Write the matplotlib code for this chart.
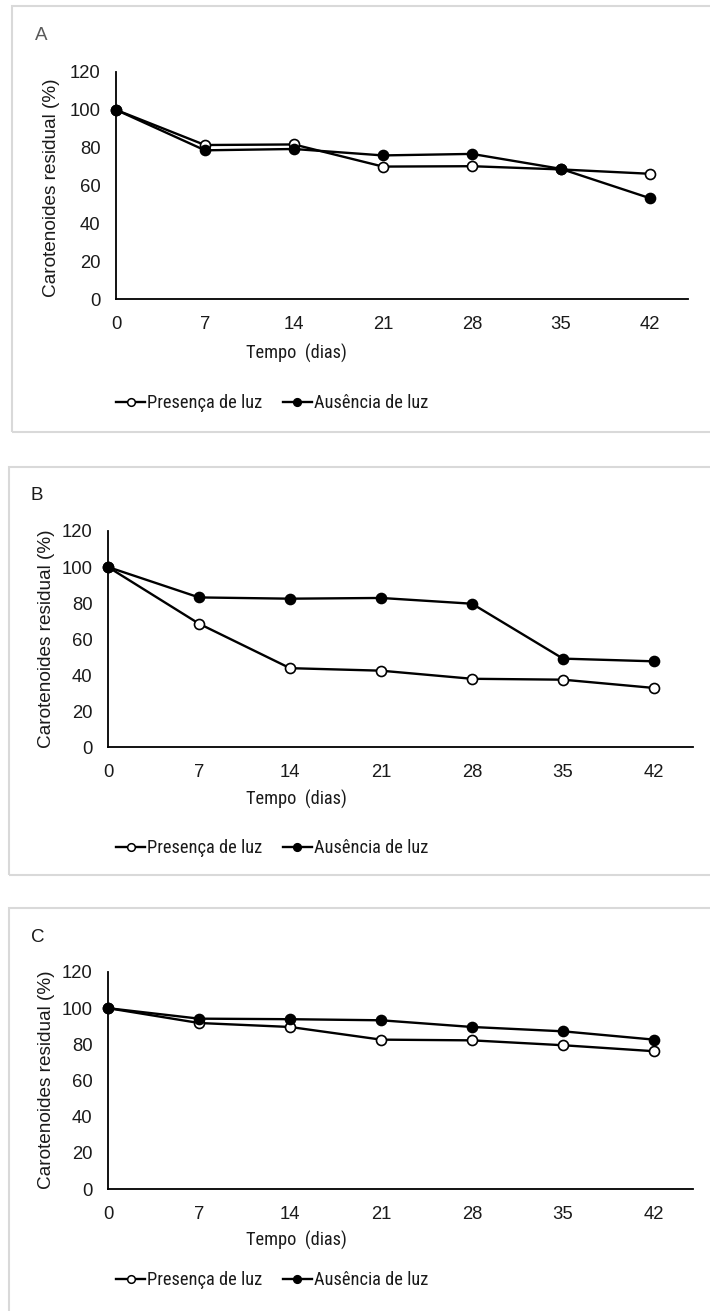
import matplotlib
matplotlib.use("Agg")
import matplotlib.pyplot as plt
from matplotlib.patches import Rectangle
from matplotlib.lines import Line2D

plt.rcParams['font.family'] = ['Liberation Sans', 'DejaVu Sans']

days = [0, 7, 14, 21, 28, 35, 42]
x_ticks = [0, 7, 14, 21, 28, 35, 42]
y_ticks = [0, 20, 40, 60, 80, 100, 120]
panel_labels = ["A", "B", "C"]
series_names = ["Presença de luz", "Ausência de luz"]

presenca_A = [100, 81.4, 81.7, 70.0, 70.2, 68.5, 66.2]
ausencia_A = [100, 78.6, 79.3, 75.9, 76.7, 68.8, 53.3]
presenca_B = [100, 68.5, 43.8, 42.4, 37.9, 37.4, 32.8]
ausencia_B = [100, 83.1, 82.4, 82.8, 79.6, 49.1, 47.6]
presenca_C = [100, 91.8, 89.6, 82.6, 82.2, 79.5, 76.2]
ausencia_C = [100, 94.2, 93.9, 93.3, 89.6, 87.2, 82.6]

W, H = 710, 1311
fig = plt.figure(figsize=(W / 100, H / 100), dpi=100)

def fx(px):
    return px / W

def fy(py):
    return 1 - py / H

NARROW = ['Liberation Sans Narrow', 'Roboto Condensed', 'Archivo Narrow', 'Liberation Sans']

panels = [
    dict(box=(12, 6, 432), ax=(116, 688, 299, 72), lab=(35, 35), lab_color='#595959',
         ylab=(52, 188), xlab_y=353, leg_y=403, pres=presenca_A, aus=ausencia_A),
    dict(box=(9, 467, 875), ax=(108, 693, 747, 531), lab=(31, 495), lab_color='#1a1a1a',
         ylab=(47, 639), xlab_y=799, leg_y=848, pres=presenca_B, aus=ausencia_B),
    dict(box=(9, 908, 1330), ax=(108, 693, 1189, 972), lab=(31, 938), lab_color='#1a1a1a',
         ylab=(47, 1080), xlab_y=1240, leg_y=1280, pres=presenca_C, aus=ausencia_C),
]

for i, p in enumerate(panels):
    bl, bt, bb = p['box']
    fig.patches.append(Rectangle((fx(bl), fy(bb)), fx(W + 20 - bl), fy(bt) - fy(bb),
                                 transform=fig.transFigure, fill=False,
                                 edgecolor='#d9d9d9', linewidth=1.5, zorder=0))
    x0, x1, y0, y1 = p['ax']
    ax = fig.add_axes([fx(x0), fy(y0), fx(x1 - x0), fy(y1) - fy(y0)])
    ax.set_xlim(0, 45)
    ax.set_ylim(0, 120)
    ax.set_xticks(x_ticks)
    ax.set_yticks(y_ticks)
    ax.tick_params(length=0, labelsize=13.3, colors='#1a1a1a')
    ax.tick_params(axis='y', pad=11)
    ax.tick_params(axis='x', pad=12)
    for s in ['top', 'right']:
        ax.spines[s].set_visible(False)
    for s in ['left', 'bottom']:
        ax.spines[s].set_color('black')
        ax.spines[s].set_linewidth(1.3)
    ax.patch.set_alpha(0)

    ax.plot(days, p['pres'], color='black', linewidth=1.7, marker='o', markersize=7.2,
            markerfacecolor='white', markeredgecolor='black', markeredgewidth=1.2,
            clip_on=False, zorder=3)
    ax.plot(days, p['aus'], color='black', linewidth=1.7, marker='o', markersize=7.2,
            markerfacecolor='black', markeredgecolor='black', markeredgewidth=1.2,
            clip_on=False, zorder=4)

    lx, ly = p['lab']
    fig.text(fx(lx), fy(ly), panel_labels[i], fontsize=13.5, color=p['lab_color'],
             ha='left', va='center')
    yx, yy = p['ylab']
    fig.text(fx(yx), fy(yy), "Carotenoides residual (%)", fontsize=13.7, color='#1a1a1a',
             rotation=90, ha='center', va='center')
    fig.text(fx(296), fy(p['xlab_y']), "Tempo  (dias)", fontsize=13.2, color='#1a1a1a',
             ha='center', va='center', family=NARROW)

    handles = [
        Line2D([], [], color='black', linewidth=1.7, marker='o', markersize=5.5,
               markerfacecolor='white', markeredgecolor='black', markeredgewidth=1.1),
        Line2D([], [], color='black', linewidth=1.7, marker='o', markersize=5.5,
               markerfacecolor='black', markeredgecolor='black', markeredgewidth=1.1),
    ]
    fig.legend(handles, series_names, loc='center', bbox_to_anchor=(fx(272), fy(p['leg_y'])),
               ncol=2, frameon=False, handlelength=1.6, handletextpad=0.1,
               columnspacing=1.1, prop={'family': NARROW, 'size': 13.2},
               labelcolor='#1a1a1a', borderpad=0, borderaxespad=0)

fig.savefig("out.png", dpi=100)
